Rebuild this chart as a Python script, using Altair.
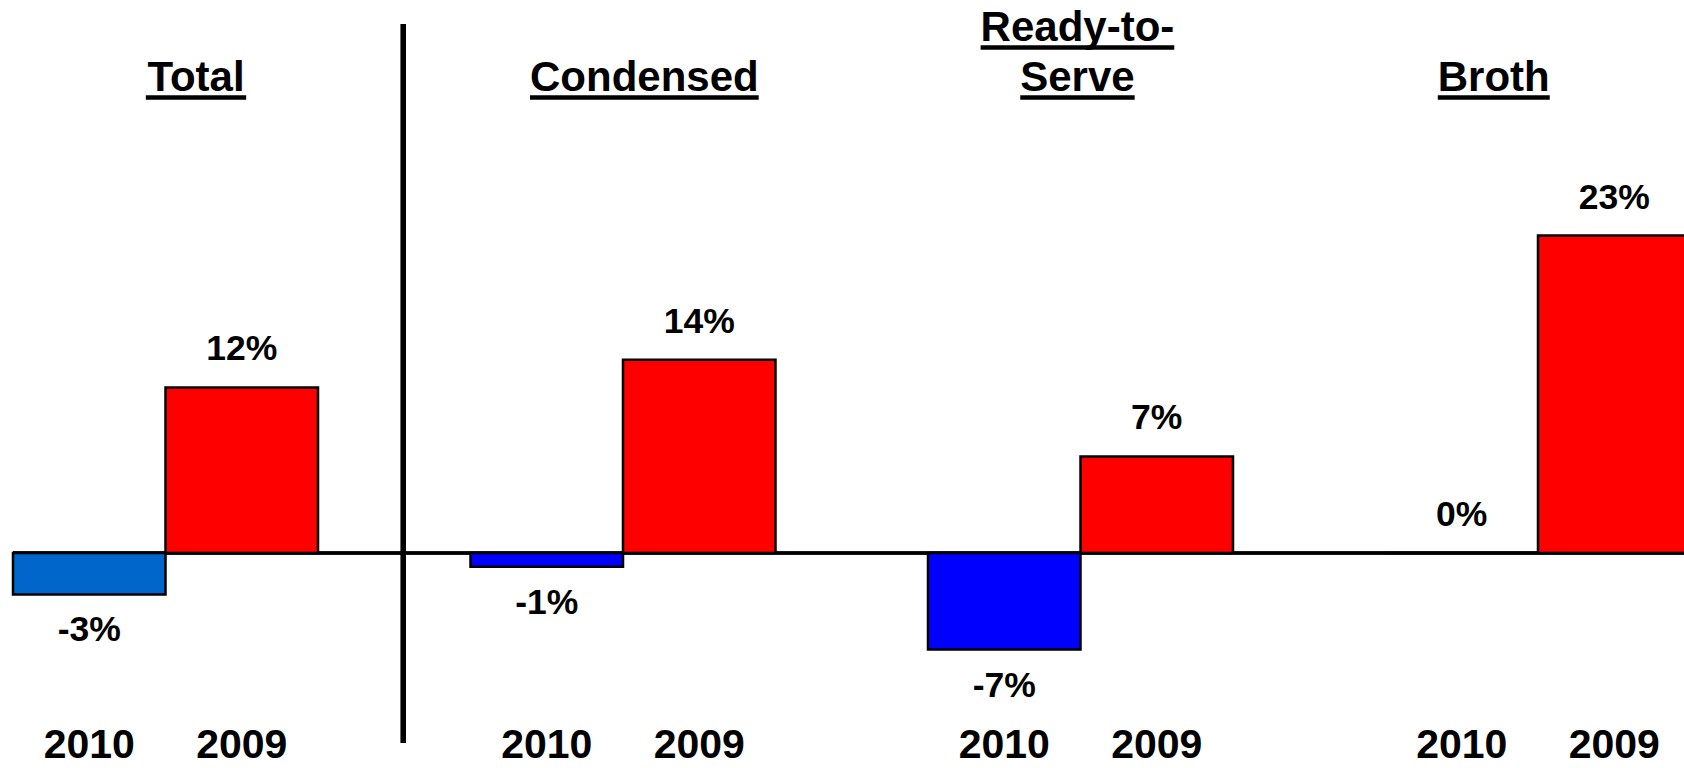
import altair as alt
import pandas as pd

# ---- data -------------------------------------------------------------
categories = ["Total", "Condensed", "Ready-to-Serve", "Broth"]
years = ["2010", "2009"]
growth_2010 = [-3, -1, -7, 0]
growth_2009 = [12, 14, 7, 23]
title_lines = [["Total"], ["Condensed"], ["Ready-to-", "Serve"], ["Broth"]]

# ---- styles / layout --------------------------------------------------
fill_2010 = ["#0066CC", "#0000FF", "#0000FF", "#0000FF"]
fill_2009 = "#FF0000"
FONT = "Liberation Sans"
W, H = 1684, 768
PX_PER_SLOT = 152.5          # one bar is one slot wide, a group is three slots
LEFT = 13
ZERO_PX = 553
PX_PER_PCT = 13.8
x_dom = [-LEFT / PX_PER_SLOT, (W - LEFT) / PX_PER_SLOT]
y_dom = [-(H - ZERO_PX) / PX_PER_PCT, ZERO_PX / PX_PER_PCT]
title_nudge = [0.2, 0.14, -0.02, -0.29]   # heading offsets, in slots
divider_slot = 2.56
TITLE_SIZE, YEAR_SIZE, VALUE_SIZE = 42, 41, 35.5

# Arial/Liberation Sans Bold advance widths (per 1000 em) for heading text
ADV = {"T": 611, "o": 611, "t": 333, "a": 556, "l": 278, "C": 722, "n": 611,
       "d": 611, "e": 556, "s": 556, "R": 722, "y": 556, "-": 333, "S": 667,
       "r": 389, "v": 556, "B": 722, "h": 611}


def text_px(s, size):
    return sum(ADV.get(c, 556) for c in s) * size / 1000.0


# ---- tables -----------------------------------------------------------
bar_rows = []
for g, cat in enumerate(categories):
    for j, (yr, val, col) in enumerate(zip(years, [growth_2010[g], growth_2009[g]],
                                           [fill_2010[g], fill_2009])):
        slot = 3 * g + j
        bar_rows.append({"category": cat, "year": yr, "value": val,
                         "label": f"{val}%", "color": col,
                         "x0": slot, "x1": slot + 1, "xc": slot + 0.5})
bars_df = pd.DataFrame(bar_rows)

title_rows = []
for g, lines in enumerate(title_lines):
    xc = 3 * g + 1 + title_nudge[g]
    n = len(lines)
    for k, line in enumerate(lines):
        half = text_px(line, TITLE_SIZE) / 2 / PX_PER_SLOT
        title_rows.append({"text": line, "xc": xc, "xa": xc - half,
                           "xb": xc + half, "row": n - 1 - k})
titles_df = pd.DataFrame(title_rows)

# ---- encodings --------------------------------------------------------
xs = alt.Scale(domain=x_dom, nice=False, zero=False)
ys = alt.Scale(domain=y_dom, nice=False, zero=False)


def X(field):
    return alt.X(field, type="quantitative", scale=xs, axis=None)


def Y(field):
    return alt.Y(field, type="quantitative", scale=ys, axis=None)


base = alt.Chart(bars_df)

zero_line = base.mark_rule(color="black", strokeWidth=2.5).encode(
    x=alt.XDatum(0, scale=xs, axis=None),
    x2=alt.value(W),
    y=alt.YDatum(0, scale=ys, axis=None),
)

bars = base.mark_rect(stroke="black", strokeWidth=2.5, clip=True).encode(
    x=X("x0"), x2="x1",
    y=Y("value"), y2=alt.Y2Datum(0),
    fill=alt.Fill("color:N", scale=None),
)

divider = base.mark_rule(color="black", strokeWidth=5).encode(
    x=alt.XDatum(divider_slot, scale=xs, axis=None),
    y=alt.value(24), y2=alt.value(743),
)

text_style = dict(font=FONT, fontWeight="bold", color="black", align="center")

pos_labels = base.transform_filter("datum.value >= 0").mark_text(
    baseline="alphabetic", dy=-27, fontSize=VALUE_SIZE, **text_style
).encode(x=X("xc"), y=Y("value"), text="label:N")

neg_labels = base.transform_filter("datum.value < 0").mark_text(
    baseline="top", dy=19, fontSize=VALUE_SIZE, **text_style
).encode(x=X("xc"), y=Y("value"), text="label:N")

year_labels = base.mark_text(
    baseline="alphabetic", fontSize=YEAR_SIZE, **text_style
).encode(x=X("xc"), y=alt.value(758), text="year:N")

layers = [zero_line, bars, divider, pos_labels, neg_labels, year_labels]

tbase = alt.Chart(titles_df)
for r in sorted(titles_df["row"].unique()):
    sel = tbase.transform_filter(f"datum.row == {r}")
    layers.append(sel.mark_text(baseline="alphabetic", fontSize=TITLE_SIZE, **text_style)
                  .encode(x=X("xc"), y=alt.value(91 - 50 * r), text="text:N"))
    layers.append(sel.mark_rule(color="black", strokeWidth=4.5)
                  .encode(x=X("xa"), x2="xb", y=alt.value(97.5 - 50 * r)))

chart = alt.layer(*layers).properties(
    width=W, height=H, padding=0,
    autosize=alt.AutoSizeParams(type="none"),
    background="white",
).configure_view(stroke=None)

chart.save("out.html", embed_options={"renderer": "svg", "actions": False})
